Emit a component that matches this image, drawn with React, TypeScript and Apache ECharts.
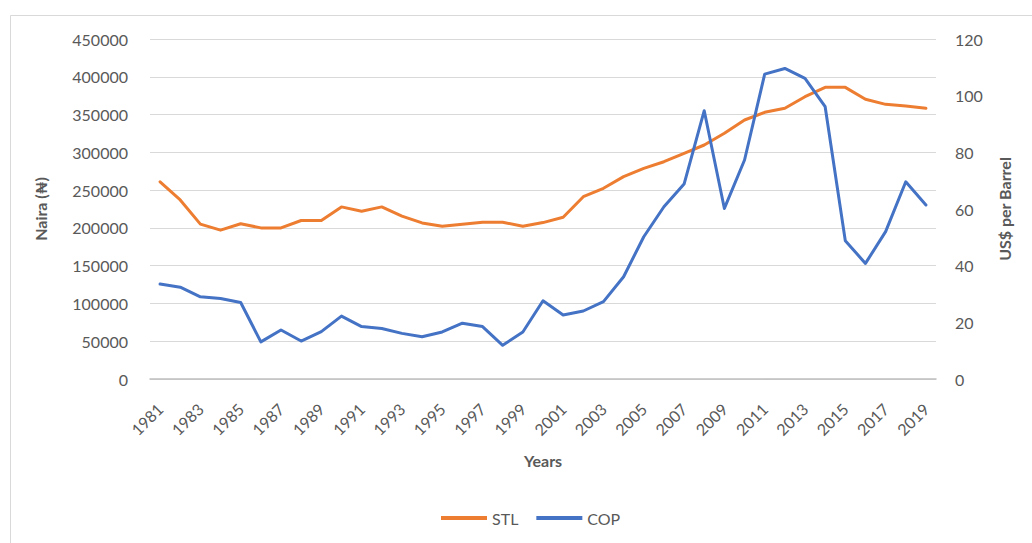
import React, { useEffect, useRef } from "react";
import * as echarts from "echarts";

const years: string[] = [];
for (let y = 1981; y <= 2019; y++) years.push(String(y));

const stl = [
  261000, 237000, 205000, 197000, 205500, 200000, 200000, 209800, 209800, 227800,
  222000, 227800, 215500, 206600, 202200, 204900, 207500, 207500, 202200, 207000,
  214000, 241300, 252400, 267800, 278800, 287600, 298700, 309700, 325200, 342800,
  353000, 358300, 373600, 386000, 386000, 370200, 363500, 361300, 358300,
];

const cop = [
  33.5, 32.4, 29.0, 28.4, 27.0, 13.1, 17.3, 13.4, 16.7, 22.2,
  18.5, 17.8, 16.1, 14.9, 16.6, 19.7, 18.5, 11.9, 16.6, 27.6,
  22.6, 24.0, 27.3, 36.1, 50.2, 60.8, 68.8, 94.7, 60.2, 77.3,
  107.6, 109.6, 106.1, 96.1, 48.8, 40.8, 52.0, 69.6, 61.4,
];

const FONT = "Lato, 'DejaVu Sans', sans-serif";
const GREY = "#595959";

export default function App() {
  const ref = useRef<HTMLDivElement>(null);
  useEffect(() => {
    if (!ref.current) return;
    const chart = echarts.init(ref.current, undefined, { renderer: "svg" });
    chart.setOption({
      animation: false,
      backgroundColor: "#ffffff",
      textStyle: { fontFamily: FONT },
      graphic: [
        {
          type: "rect",
          shape: { x: 10.5, y: 15.5, width: 1100, height: 600 },
          style: { fill: "none", stroke: "#d9d9d9", lineWidth: 1 },
          silent: true,
        },
      ],
      grid: { left: 150, right: 96, top: 39, bottom: 164, containLabel: false },
      legend: {
        bottom: 12,
        left: 436,
        icon: "rect",
        itemWidth: 46,
        itemHeight: 4,
        itemGap: 18,
        textStyle: { color: GREY, fontSize: 16, fontFamily: FONT },
        data: ["STL", "COP"],
      },
      xAxis: {
        type: "category",
        data: years,
        boundaryGap: true,
        name: "Years",
        nameLocation: "middle",
        nameGap: 73,
        nameTextStyle: { color: GREY, fontWeight: "bold", fontSize: 16, fontFamily: FONT },
        axisLine: { lineStyle: { color: "#bfbfbf", width: 1.5 } },
        axisTick: { show: false },
        axisLabel: {
          interval: 1,
          rotate: 45,
          margin: 27,
          color: GREY,
          fontSize: 16,
          fontFamily: FONT,
        },
        splitLine: { show: false },
      },
      yAxis: [
        {
          type: "value",
          min: 0,
          max: 450000,
          interval: 50000,
          name: "Naira (₦)",
          nameLocation: "middle",
          nameGap: 102,
          nameTextStyle: { color: GREY, fontWeight: "bold", fontSize: 16, fontFamily: FONT },
          axisLine: { show: false },
          axisTick: { show: false },
          axisLabel: {
            color: GREY,
            fontSize: 16,
            margin: 22,
            fontFamily: FONT,
            formatter: (v: number) => String(v),
          },
          splitLine: { lineStyle: { color: "#d9d9d9", width: 1 } },
        },
        {
          type: "value",
          min: 0,
          max: 120,
          interval: 20,
          position: "right",
          name: "US$ per Barrel",
          nameLocation: "middle",
          nameGap: 60,
          nameTextStyle: { color: GREY, fontWeight: "bold", fontSize: 16, fontFamily: FONT },
          axisLine: { show: false },
          axisTick: { show: false },
          axisLabel: { color: GREY, fontSize: 16, margin: 19, fontFamily: FONT },
          splitLine: { show: false },
        },
      ],
      series: [
        {
          name: "STL",
          type: "line",
          data: stl,
          yAxisIndex: 0,
          symbol: "none",
          color: "#ED7D31",
          lineStyle: { width: 3, color: "#ED7D31", join: "round", cap: "round" },
        },
        {
          name: "COP",
          type: "line",
          data: cop,
          yAxisIndex: 1,
          symbol: "none",
          color: "#4472C4",
          lineStyle: { width: 3, color: "#4472C4", join: "round", cap: "round" },
        },
      ],
    });
    return () => chart.dispose();
  }, []);
  return (
    <div
      ref={ref}
      style={{ position: "fixed", left: 0, top: 0, width: 1032, height: 543 }}
    />
  );
}
